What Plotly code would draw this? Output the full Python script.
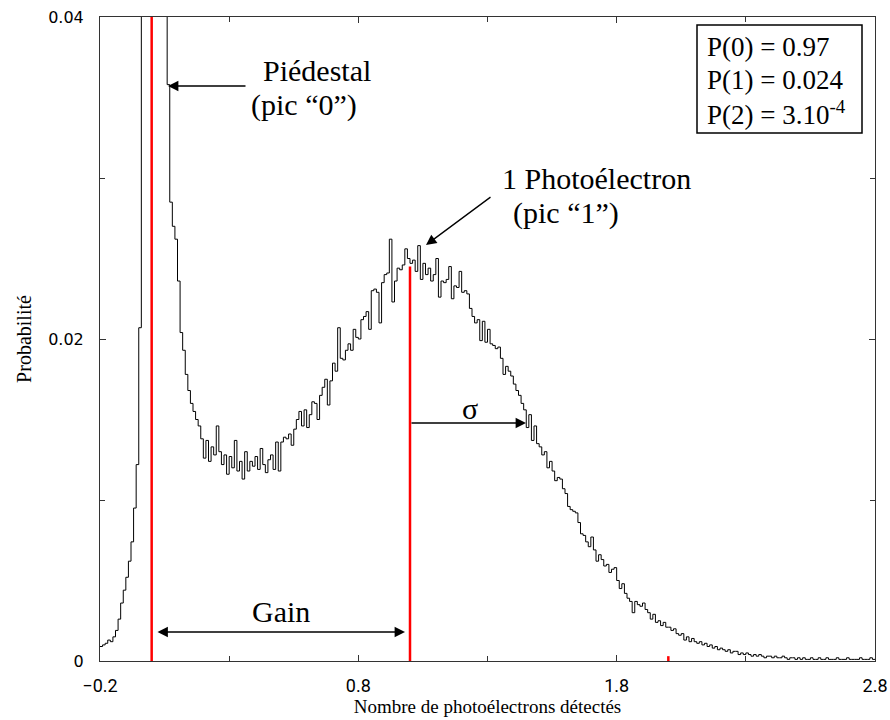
import numpy as np
import plotly.graph_objects as go

# ---------------- data ----------------
bin_start = -0.2
bin_width = 0.01

left_tail = [0.0009, 0.0010, 0.0011, 0.0013, 0.0012, 0.0015, 0.0019, 0.0026, 0.0036, 0.0044,
             0.0052, 0.0062, 0.0074, 0.0095, 0.0122, 0.0207]
pedestal = [0.045, 0.08, 0.12, 0.16, 0.17, 0.15, 0.11, 0.07, 0.05, 0.042]
valley = [0.0358, 0.0285, 0.0270, 0.0262, 0.0236, 0.0204, 0.0193, 0.0178, 0.0168, 0.0160,
          0.0155, 0.0150, 0.0146, 0.0138, 0.0126, 0.0137, 0.0124, 0.0133, 0.0128, 0.0146,
          0.0130, 0.0122, 0.0128, 0.0116, 0.0127, 0.0120, 0.0137, 0.0118, 0.0124, 0.0113,
          0.0130, 0.0118, 0.0124, 0.0121, 0.0127, 0.0119, 0.0132, 0.0122, 0.0117, 0.0125,
          0.0128, 0.0119, 0.0136, 0.0118]
photo_peak = [0.0136, 0.0139, 0.0138, 0.0141, 0.0134, 0.0144, 0.0150, 0.0155, 0.0146, 0.0156,
              0.0145, 0.0153, 0.0161, 0.0160, 0.0150, 0.0165, 0.0170, 0.0175, 0.0159, 0.0174,
              0.0185, 0.0180, 0.0207, 0.0188, 0.0187, 0.0193, 0.0197, 0.0193, 0.0206, 0.0201,
              0.0200, 0.0212, 0.0214, 0.0217, 0.0206, 0.0230, 0.0231, 0.0229, 0.0210, 0.0235,
              0.0240, 0.0241, 0.0262, 0.0223, 0.0236, 0.0244, 0.0243, 0.0246, 0.0256, 0.0250,
              0.0247, 0.0249, 0.0242, 0.0258, 0.0237, 0.0247, 0.0240, 0.0244, 0.0236, 0.0240,
              0.0250, 0.0226, 0.0236, 0.0235, 0.0237, 0.0245, 0.0225, 0.0233, 0.0232, 0.0242,
              0.0229, 0.0230, 0.0228, 0.0219, 0.0214, 0.0210, 0.0212, 0.0199, 0.0211, 0.0198,
              0.0206, 0.0197, 0.0196, 0.0194, 0.0195, 0.0188, 0.0178, 0.0183, 0.0180, 0.0177]
right_tail = [0.0172, 0.0168, 0.0165, 0.0160, 0.0156, 0.0145, 0.0153, 0.0137, 0.0146, 0.0135,
              0.0133, 0.0128, 0.0130, 0.0120, 0.0124, 0.0118, 0.0112, 0.0114, 0.0113, 0.0107,
              0.0104, 0.0096, 0.0094, 0.0093, 0.0092, 0.0086, 0.0079, 0.0078, 0.0074, 0.0071,
              0.0077, 0.0069, 0.0062, 0.0066, 0.0063, 0.0059, 0.0060, 0.0055, 0.0057, 0.0058,
              0.0050, 0.0045, 0.0048, 0.0042, 0.0039, 0.0037, 0.0030, 0.0037, 0.0035, 0.0034,
              0.0036, 0.0032, 0.0030, 0.0026, 0.0029, 0.0024, 0.0025, 0.0022, 0.0024, 0.0021,
              0.0021, 0.0019, 0.0020, 0.0017, 0.0016, 0.0017, 0.0013, 0.0015, 0.0012, 0.0014,
              0.0012, 0.0011, 0.0012, 0.0010, 0.0011, 0.0009, 0.0010, 0.0008, 0.0009, 0.0007,
              0.0008, 0.0007, 0.0006, 0.0007, 0.0005, 0.0006, 0.0006, 0.0004, 0.0005, 0.0004,
              0.0005, 0.0004, 0.0003, 0.0004, 0.0003, 0.0004, 0.0003, 0.0002, 0.0003, 0.0003,
              0.0002, 0.0003, 0.0002, 0.0002, 0.0003, 0.0002, 0.0001, 0.0002, 0.0002, 0.0001,
              0.0002, 0.0001, 0.0002, 0.0001, 0.0001, 0.0002, 0.0001, 0.0001, 0.0002, 0.0001,
              0.0001, 0.0002, 0.0001, 0.0001, 0.0001, 0.0002, 0.0001, 0.0001, 0.0001, 0.0002,
              0.0001, 0.0001, 0.0001, 0.0001, 0.0002, 0.0001, 0.0001, 0.0001, 0.0002, 0.0001]

peak_positions = [0, 1, 2]
peak_heights = [0.97, 0.0245, 0.0003]
box_lines = ["P(0) = 0.97", "P(1) = 0.024", "P(2) = 3.10<sup>-4</sup>"]

x_tickvals = [-0.2, 0.8, 1.8, 2.8]
x_ticktext = ["\u22120.2", "0.8", "1.8", "2.8"]
x_minor_ticks = [0.3, 1.3, 2.3]
y_tickvals = [0, 0.02, 0.04]
y_ticktext = ["0", "0.02", "0.04"]
y_minor_ticks = [0.01, 0.03]

# ---------------- figure ----------------
probs = left_tail + pedestal + valley + photo_peak + right_tail
n = len(probs)
edges = np.round(bin_start + bin_width * np.arange(n + 1), 6)
step_y = probs + [probs[-1]]

serif = "Liberation Serif, Times New Roman, serif"

fig = go.Figure()
fig.add_trace(go.Scatter(x=edges, y=step_y, mode="lines", line_shape="hv",
                         line=dict(color="black", width=1), showlegend=False,
                         hoverinfo="skip"))

rx, ry = [], []
for p, h in zip(peak_positions, peak_heights):
    rx += [p, p, None]
    ry += [0, h, None]
fig.add_trace(go.Scatter(x=rx, y=ry, mode="lines", line=dict(color="#ff0000", width=2.5),
                         showlegend=False, hoverinfo="skip"))

W, H = 890, 720
PX_L, PX_R, PX_T, PX_B = 100, 875, 17, 661   # plot area in window pixels
L, T, R, B = PX_L, PX_T, W - PX_R, H - PX_B
X0, X1, Y0, Y1 = -0.2, 2.8, 0.0, 0.04


def dx(px):
    return X0 + (px - PX_L) / (PX_R - PX_L) * (X1 - X0)


def dy(py):
    return Y0 + (PX_B - py) / (PX_B - PX_T) * (Y1 - Y0)


ann = []
ann_font = dict(family=serif, size=30, color="black")
ann.append(dict(x=dx(261), y=dy(70), text="Piédestal", showarrow=False, xanchor="left",
                yanchor="middle", font=ann_font))
ann.append(dict(x=dx(249), y=dy(105), text="(pic \u201c0\u201d)", showarrow=False, xanchor="left",
                yanchor="middle", font=ann_font))
ann.append(dict(x=dx(500), y=dy(178), text="1 Photoélectron", showarrow=False, xanchor="left",
                yanchor="middle", font=ann_font))
ann.append(dict(x=dx(511), y=dy(213), text="(pic \u201c1\u201d)", showarrow=False, xanchor="left",
                yanchor="middle", font=ann_font))
ann.append(dict(x=dx(281), y=dy(611), text="Gain", showarrow=False, xanchor="center",
                yanchor="middle", font=ann_font))
ann.append(dict(x=dx(470), y=dy(408), text="\u03c3", showarrow=False, xanchor="center",
                yanchor="middle", font=ann_font))

arrow_style = dict(showarrow=True, arrowhead=2, arrowsize=1.6, arrowwidth=1.3,
                   arrowcolor="black", text="")
# Piedestal arrow
ann.append(dict(x=dx(168), y=dy(86), ax=dx(247), ay=dy(86), axref="x", ayref="y",
                **arrow_style))
# photoelectron arrow
ann.append(dict(x=dx(426), y=dy(245), ax=dx(492), ay=dy(196), axref="x", ayref="y",
                **arrow_style))
# gain double arrow
ann.append(dict(x=dx(405), y=dy(632), ax=dx(156), ay=dy(632), axref="x", ayref="y",
                arrowside="end+start", startarrowhead=2, startarrowsize=1.6,
                **arrow_style))
# sigma arrow
ann.append(dict(x=dx(526), y=dy(423), ax=dx(410), ay=dy(423), axref="x", ayref="y",
                **arrow_style))

# probability box
box_font = dict(family=serif, size=27, color="black")
for i, line in enumerate(box_lines):
    ann.append(dict(x=dx(705), y=dy(47 + 33 * i), text=line, showarrow=False,
                    xanchor="left", yanchor="middle", font=box_font))

shapes = [dict(type="rect", xref="x", yref="y", x0=dx(697), x1=dx(862), y0=dy(133), y1=dy(25),
               line=dict(color="black", width=1.5), fillcolor="rgba(0,0,0,0)")]

fig.update_layout(
    width=W, height=H,
    margin=dict(l=L, r=R, t=T, b=B, autoexpand=False),
    plot_bgcolor="white", paper_bgcolor="white",
    annotations=ann, shapes=shapes, showlegend=False,
    xaxis=dict(range=[X0, X1], tickvals=x_tickvals, ticktext=x_ticktext,
               ticks="inside", ticklen=6, tickwidth=1, tickcolor="#333",
               minor=dict(tickvals=x_minor_ticks, ticks="inside", ticklen=5,
                          tickwidth=1, tickcolor="#333", showgrid=False),
               showline=True, linecolor="#333", linewidth=1, mirror="ticks",
               showgrid=False, zeroline=False, ticklabeloverflow="allow",
               tickfont=dict(family="Liberation Sans Narrow, Roboto, sans-serif", size=18,
                             color="black"),
               ticklabelstandoff=8,
               title=dict(text="Nombre de photoélectrons détectés",
                          font=dict(family=serif, size=19, color="black"), standoff=4)),
    yaxis=dict(range=[Y0, Y1], tickvals=y_tickvals, ticktext=y_ticktext,
               ticks="inside", ticklen=6, tickwidth=1, tickcolor="#333",
               minor=dict(tickvals=y_minor_ticks, ticks="inside", ticklen=5,
                          tickwidth=1, tickcolor="#333", showgrid=False),
               showline=True, linecolor="#333", linewidth=1, mirror="ticks",
               showgrid=False, zeroline=False, ticklabeloverflow="allow",
               tickfont=dict(family="DejaVu Sans, sans-serif", size=16, color="black"),
               ticklabelstandoff=12,
               title=dict(text="Probabilité",
                          font=dict(family=serif, size=20, color="black"), standoff=11)),
)

fig.write_html("out.html", config={"displayModeBar": False},
               post_script="document.body.style.margin='0';document.body.style.overflow='hidden';")
